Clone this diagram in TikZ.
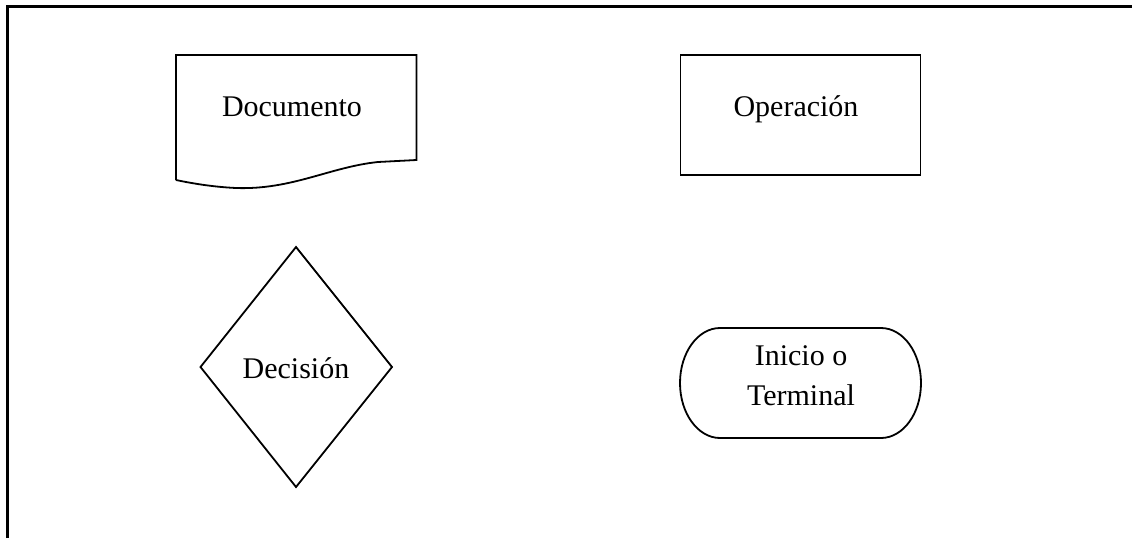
\documentclass[tikz,border=0pt]{standalone}
\usepackage{fontspec}
\setmainfont{Liberation Serif}
\begin{document}
\begin{tikzpicture}[x=1pt,y=-1pt,
  frame/.style={line width=3pt},
  shapeline/.style={line width=1.8pt, line join=miter},
  label/.style={anchor=base, inner sep=0pt, font=\fontsize{30}{38}\selectfont}]
\useasboundingbox (0,0) rectangle (1132,538);
% outer frame (top and left sides)
\draw[frame] (7,538) -- (7,6.5) -- (1132,6.5);
% document symbol
\draw[shapeline] (176,180) -- (176,55) -- (416.5,55) -- (416.5,160)
  -- (378,162) .. controls (330,167) and (292,190) .. (236,188)
  .. controls (215,187) and (195,184) .. (176,180);
\node[label] (doc) at (292,116) {Documento};
% operation box
\draw[shapeline] (680.5,55) rectangle (920.5,175);
\node[label] (op) at (796,116) {Operación};
% decision diamond
\draw[shapeline] (296,247) -- (392,367) -- (296,487) -- (200.5,367) -- cycle;
\node[label] (dec) at (296,378) {Decisión};
% terminal (y axis points down, so angles run clockwise on the page)
\draw[shapeline] (720,328) -- (881,328) arc[start angle=-90,end angle=90,x radius=40,y radius=55]
  -- (720,438) arc[start angle=90,end angle=270,x radius=40,y radius=55] -- cycle;
\node[label] (term1) at (801,365) {Inicio o};
\node[label] (term2) at (801,405) {Terminal};
\end{tikzpicture}
\end{document}
